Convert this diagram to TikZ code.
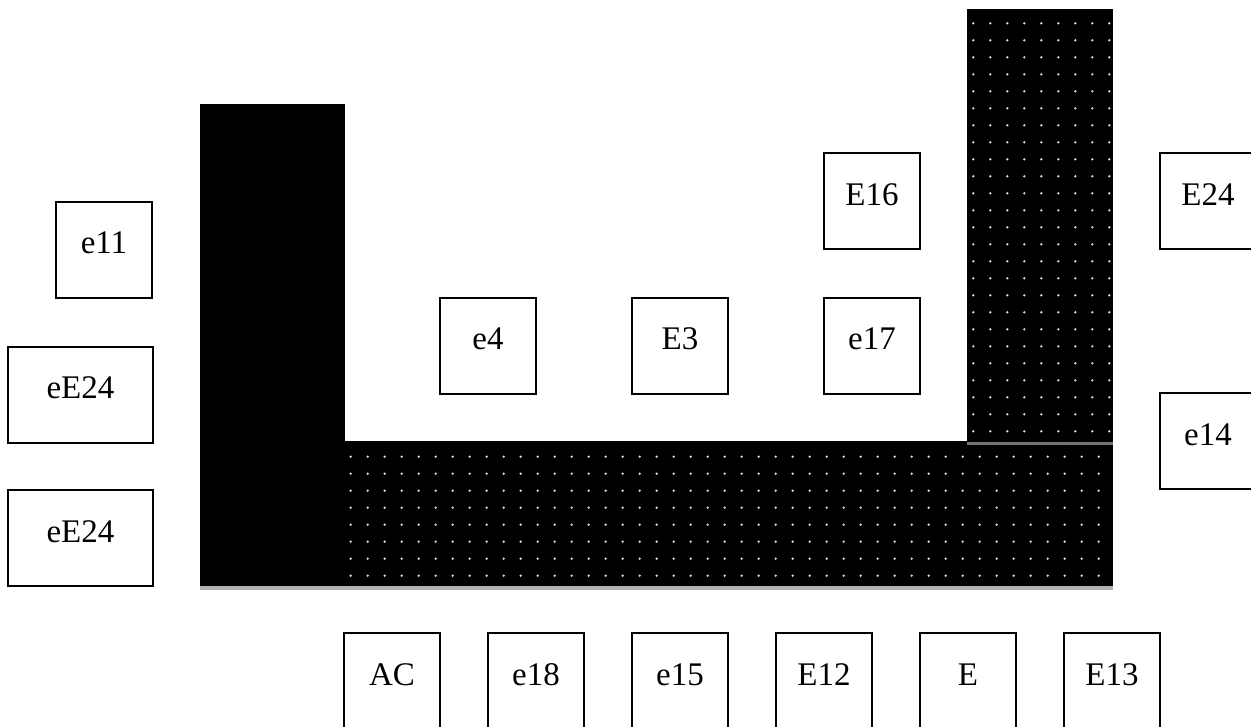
\documentclass[tikz,border=0pt]{standalone}
\usepackage{fontspec}
\setmainfont{Liberation Serif}
\begin{document}
\begin{tikzpicture}[x=1pt,y=-1pt,
  lbox/.style={draw=black, line width=2pt, fill=white, inner sep=0pt,
    minimum width=96pt, minimum height=96pt, text height=22pt, text depth=14pt,
    font=\fontsize{33}{39}\selectfont},
  wbox/.style={lbox, minimum width=145pt},
  dotd/.style={fill=black!15}]
\useasboundingbox (0,0) rectangle (1251,726);
% black solid bar
\fill[black] (200,104) rectangle (345,586);
% dotted regions
\fill[black] (345,441) rectangle (1113,586);
\fill[black] (967,9) rectangle (1113,442);
\fill[black!55] (967,442) rectangle (1113,444.5);
\fill[black!30] (200,586) rectangle (1113,590);
\foreach \i in {0,...,8}{\foreach \j in {0,...,24}{
  \fill[dotd] (973.3+17*\i,23.3+17*\j) circle (1.3);}}
\foreach \i in {0,...,44}{\foreach \j in {0,...,7}{
  \fill[dotd] (350.7+17*\i,456.7+17*\j) circle (1.3);}}
% boxes
\node[lbox] (e11) at (104,249.5) {e11};
\node[wbox] (eE24a) at (80.5,394.5) {eE24};
\node[wbox] (eE24b) at (80.5,538) {eE24};
\node[lbox] (e4) at (488,345.5) {e4};
\node[lbox] (E3) at (680,345.5) {E3};
\node[lbox] (e17) at (872,345.5) {e17};
\node[lbox] (E16) at (872,201) {E16};
\node[lbox] (E24) at (1208,201) {E24};
\node[lbox] (e14) at (1208,441) {e14};
\node[lbox] (AC) at (392,681) {AC};
\node[lbox] (e18) at (536,681) {e18};
\node[lbox] (e15) at (680,681) {e15};
\node[lbox] (E12) at (824,681) {E12};
\node[lbox] (E) at (968,681) {E};
\node[lbox] (E13) at (1112,681) {E13};
\end{tikzpicture}
\end{document}
